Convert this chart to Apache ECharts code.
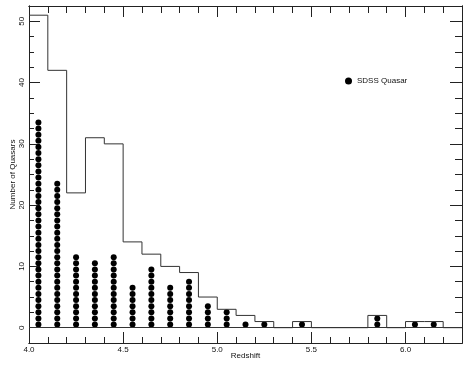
<!DOCTYPE html>
<html>
<head>
<meta charset="utf-8">
<script src="https://cdn.jsdelivr.net/npm/echarts@6/dist/echarts.min.js"></script>
<style>
  html, body { margin: 0; padding: 0; background: #fff; }
  #chart { width: 470px; height: 370px; }
</style>
</head>
<body>
<div id="chart"></div>
<script>
// histogram of all quasars: left edge of each 0.1 bin and its count
var binEdges = [4.0, 4.1, 4.2, 4.3, 4.4, 4.5, 4.6, 4.7, 4.8, 4.9, 5.0, 5.1, 5.2, 5.3, 5.4, 5.5, 5.6, 5.7, 5.8, 5.9, 6.0, 6.1, 6.2];
var binCounts = [51, 42, 22, 31, 30, 14, 12, 10, 9, 5, 3, 2, 1, 0, 1, 0, 0, 0, 2, 0, 1, 1, 0];

// SDSS quasars: bin centre and number of dots stacked there
var sdssCenters = [4.05, 4.15, 4.25, 4.35, 4.45, 4.55, 4.65, 4.75, 4.85, 4.95, 5.05, 5.15, 5.25, 5.45, 5.85, 6.05, 6.15];
var sdssCounts = [34, 24, 12, 11, 12, 7, 10, 7, 8, 4, 3, 1, 1, 1, 2, 1, 1];

var xMajor = [4.0, 4.5, 5.0, 5.5, 6.0];
var xMinor = [4.1, 4.2, 4.3, 4.4, 4.6, 4.7, 4.8, 4.9, 5.1, 5.2, 5.3, 5.4, 5.6, 5.7, 5.8, 5.9, 6.1, 6.2];
var yMajor = [0, 10, 20, 30, 40, 50];
var yMinor = [2.5, 5, 7.5, 12.5, 15, 17.5, 22.5, 25, 27.5, 32.5, 35, 37.5, 42.5, 45, 47.5];

var FONT = 'Liberation Sans';
var AX = '#222';

var histData = binEdges.map(function (e, i) { return [e, binCounts[i]]; });
histData.push([6.3, 0]);

var dots = [];
sdssCenters.forEach(function (c, i) {
  for (var k = 0; k < sdssCounts[i]; k++) dots.push([c, k + 0.5]);
});

function xAx(pos, vals, len, labels) {
  return {
    type: 'value', min: 4.0, max: 6.3, position: pos, gridIndex: 0,
    axisLine: { show: true, onZero: false, lineStyle: { color: AX, width: 1 } },
    axisTick: { show: true, inside: true, length: len, customValues: vals, lineStyle: { color: AX } },
    axisLabel: labels ? {
      show: true, customValues: vals, margin: 3, fontSize: 8, fontFamily: FONT, color: '#111',
      formatter: function (v) { return v.toFixed(1); }
    } : { show: false },
    splitLine: { show: false }
  };
}
function yAx(pos, vals, len, labels) {
  return {
    type: 'value', min: -2.5, max: 52.5, position: pos, gridIndex: 0,
    axisLine: { show: true, onZero: false, lineStyle: { color: AX, width: 1 } },
    axisTick: { show: true, inside: true, length: len, customValues: vals, lineStyle: { color: AX } },
    axisLabel: labels ? {
      show: true, customValues: vals, margin: 3, rotate: 90, fontSize: 8, fontFamily: FONT, color: '#111'
    } : { show: false },
    splitLine: { show: false }
  };
}

var xBottom = xAx('bottom', xMajor, 11, true);
xBottom.name = 'Redshift';
xBottom.nameLocation = 'middle';
xBottom.nameGap = 9;
xBottom.nameMoveOverlap = false;
xBottom.nameTextStyle = { fontSize: 8, fontFamily: FONT, color: '#111' };

var yLeft = yAx('left', yMajor, 11, true);
yLeft.name = 'Number of Quasars';
yLeft.nameLocation = 'middle';
yLeft.nameGap = 12;
yLeft.nameMoveOverlap = false;
yLeft.nameTextStyle = { fontSize: 8, fontFamily: FONT, color: '#111' };

var chart = echarts.init(document.getElementById('chart'), null, { renderer: 'canvas' });
chart.setOption({
  animation: false,
  backgroundColor: '#fff',
  grid: { left: 29, right: 8, top: 6, bottom: 27, containLabel: false, outerBoundsMode: 'none' },
  legend: {
    data: ['SDSS Quasar'],
    left: 340, top: 72,
    icon: 'circle', itemWidth: 7, itemHeight: 7, itemGap: 5,
    itemStyle: { color: '#000', opacity: 1 },
    textStyle: { fontSize: 8, fontFamily: FONT, color: '#111' }
  },
  xAxis: [
    xBottom,
    xAx('bottom', xMinor, 6, false),
    xAx('top', xMajor, 11, false),
    xAx('top', xMinor, 7, false)
  ],
  yAxis: [
    yLeft,
    yAx('left', yMinor, 5, false),
    yAx('right', yMajor, 12, false),
    yAx('right', yMinor, 7, false)
  ],
  series: [
    {
      name: 'hist', type: 'line', step: 'end', xAxisIndex: 0, yAxisIndex: 0,
      data: histData, symbol: 'none', silent: true,
      lineStyle: { color: '#333', width: 1 },
      markLine: {
        silent: true, symbol: 'none', label: { show: false },
        lineStyle: { color: '#333', width: 1, type: 'solid' },
        data: [{ yAxis: 0 }]
      }
    },
    {
      name: 'SDSS Quasar', type: 'scatter', xAxisIndex: 0, yAxisIndex: 0,
      data: dots, symbol: 'circle', symbolSize: 6,
      itemStyle: { color: '#000', opacity: 1 }
    }
  ]
});
</script>
</body>
</html>
